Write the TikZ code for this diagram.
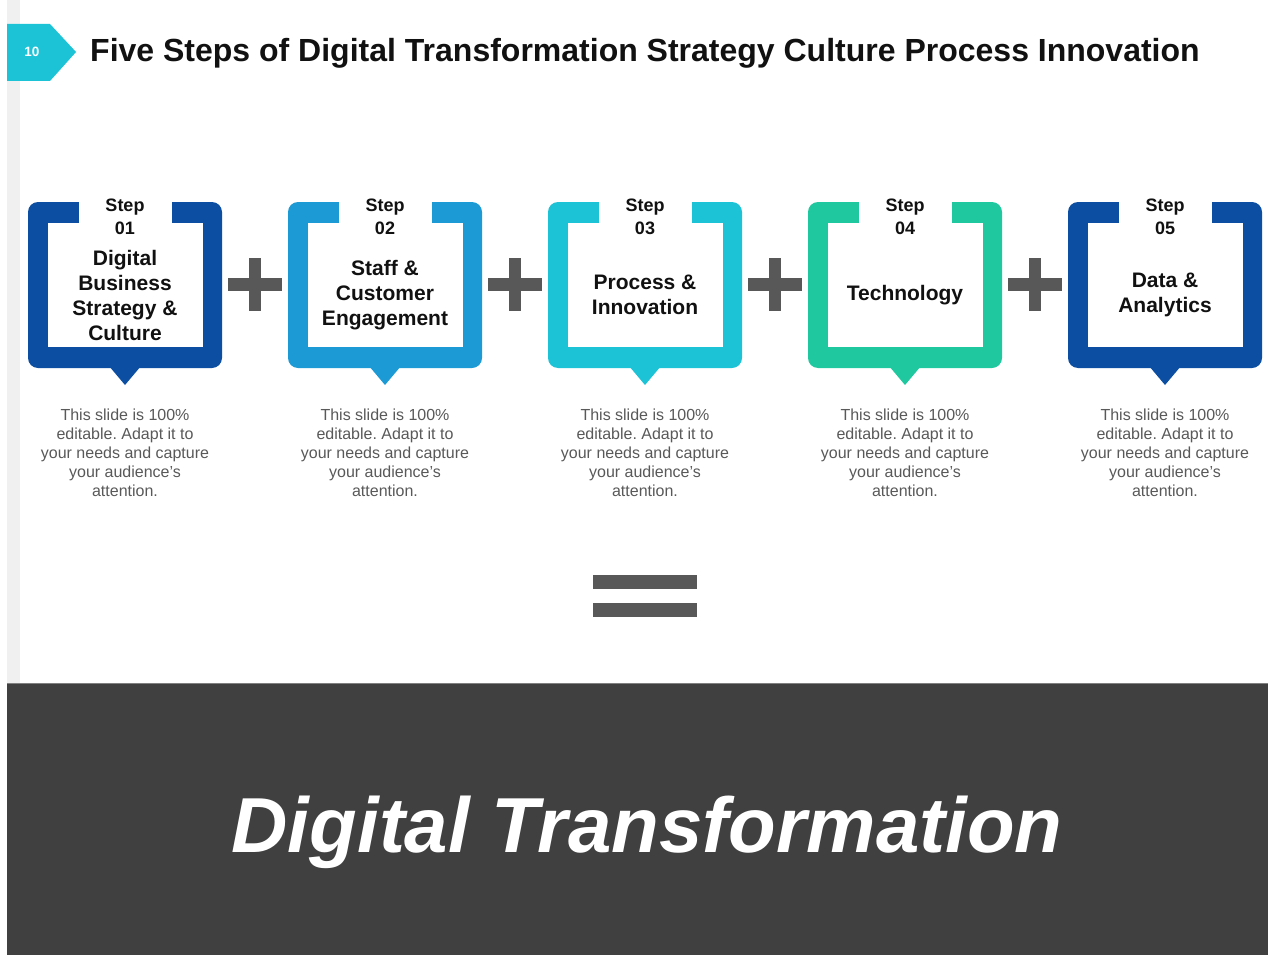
\documentclass[tikz,border=0pt]{standalone}
\usepackage{fontspec}
\setmainfont{Liberation Sans}
\usetikzlibrary{calc}
\frenchspacing
\definecolor{navy}{HTML}{0B4EA2}
\definecolor{sky}{HTML}{1B9AD6}
\definecolor{aqua}{HTML}{1CC2D6}
\definecolor{mint}{HTML}{1FC89E}
\definecolor{ink}{HTML}{111111}
\definecolor{muted}{HTML}{595959}
\definecolor{sign}{HTML}{585858}
\definecolor{band}{HTML}{404040}
\definecolor{strip}{HTML}{F0F0F0}
\tikzset{
  frame/.style={fill=#1, rounded corners=10pt},
  steplab/.style={text=ink, font=\bfseries\fontsize{18}{23}\selectfont, align=center, inner sep=0pt},
  boxtitle/.style={text=ink, font=\bfseries\fontsize{21}{25}\selectfont, align=center, inner sep=0pt},
  desc/.style={text=muted, font=\fontsize{16}{19}\selectfont, align=center, inner sep=0pt},
  sign/.style={fill=sign},
}

\begin{document}
\begin{tikzpicture}[x=1pt,y=-1pt]
  \useasboundingbox (0,0) rectangle (1268,955);
  \fill[white] (0,0) rectangle (1268,955);
  \fill[strip] (7,0) rectangle (20,683);

  % page number tag and heading
  \fill[aqua] (7,24) -- (50,24) -- (76,52) -- (50,81) -- (7,81) -- cycle;
  \node[text=white, font=\bfseries\fontsize{13.5}{15}\selectfont] (pageno) at (32,52) {10};
  \node[anchor=west, text=ink, font=\bfseries\fontsize{32}{36}\selectfont, inner sep=0pt] (heading) at (90,53)
    {Five Steps of Digital Transformation Strategy Culture Process Innovation};

  % the five step frames
  \foreach \cx/\n/\col/\name in {
      125/1/navy/{Digital\\Business\\Strategy \&\\Culture},
      385/2/sky/{Staff \&\\Customer\\Engagement},
      645/3/aqua/{Process \&\\Innovation},
      905/4/mint/{Technology},
      1165/5/navy/{Data \&\\Analytics}} {
    \fill[frame=\col] (\cx-97,202) rectangle (\cx+97,368);
    \fill[\col] (\cx-16,366) -- (\cx+16,366) -- (\cx,385) -- cycle;
    \fill[white] (\cx-77,223) rectangle (\cx+78,347);
    \fill[white] (\cx-46,200) rectangle (\cx+47,224);
    \node[steplab] (step\n) at (\cx,217) {Step\\0\n};
    \node[boxtitle] (title\n) at (\cx,295) {\name};
    \node[desc] (desc\n) at (\cx,453)
      {This slide is 100\%\\editable. Adapt it to\\your needs and capture\\your audience's\\attention.};
  }

  % plus signs between the frames
  \foreach \px in {255,515,775,1035} {
    \fill[sign] (\px-27,278) rectangle (\px+27,291);
    \fill[sign] (\px-6,258) rectangle (\px+6,311);
  }

  % equals sign
  \fill[sign] (593,575) rectangle (697,589);
  \fill[sign] (593,603) rectangle (697,617);

  % result band
  \fill[band] (7,683) rectangle (1268,955);
  \draw[gray, line width=1.5pt] (7,683.5) -- (1268,683.5);
  \node[text=white, font=\bfseries\itshape\fontsize{78}{90}\selectfont] (result) at (647,832) {Digital Transformation};
\end{tikzpicture}
\end{document}
